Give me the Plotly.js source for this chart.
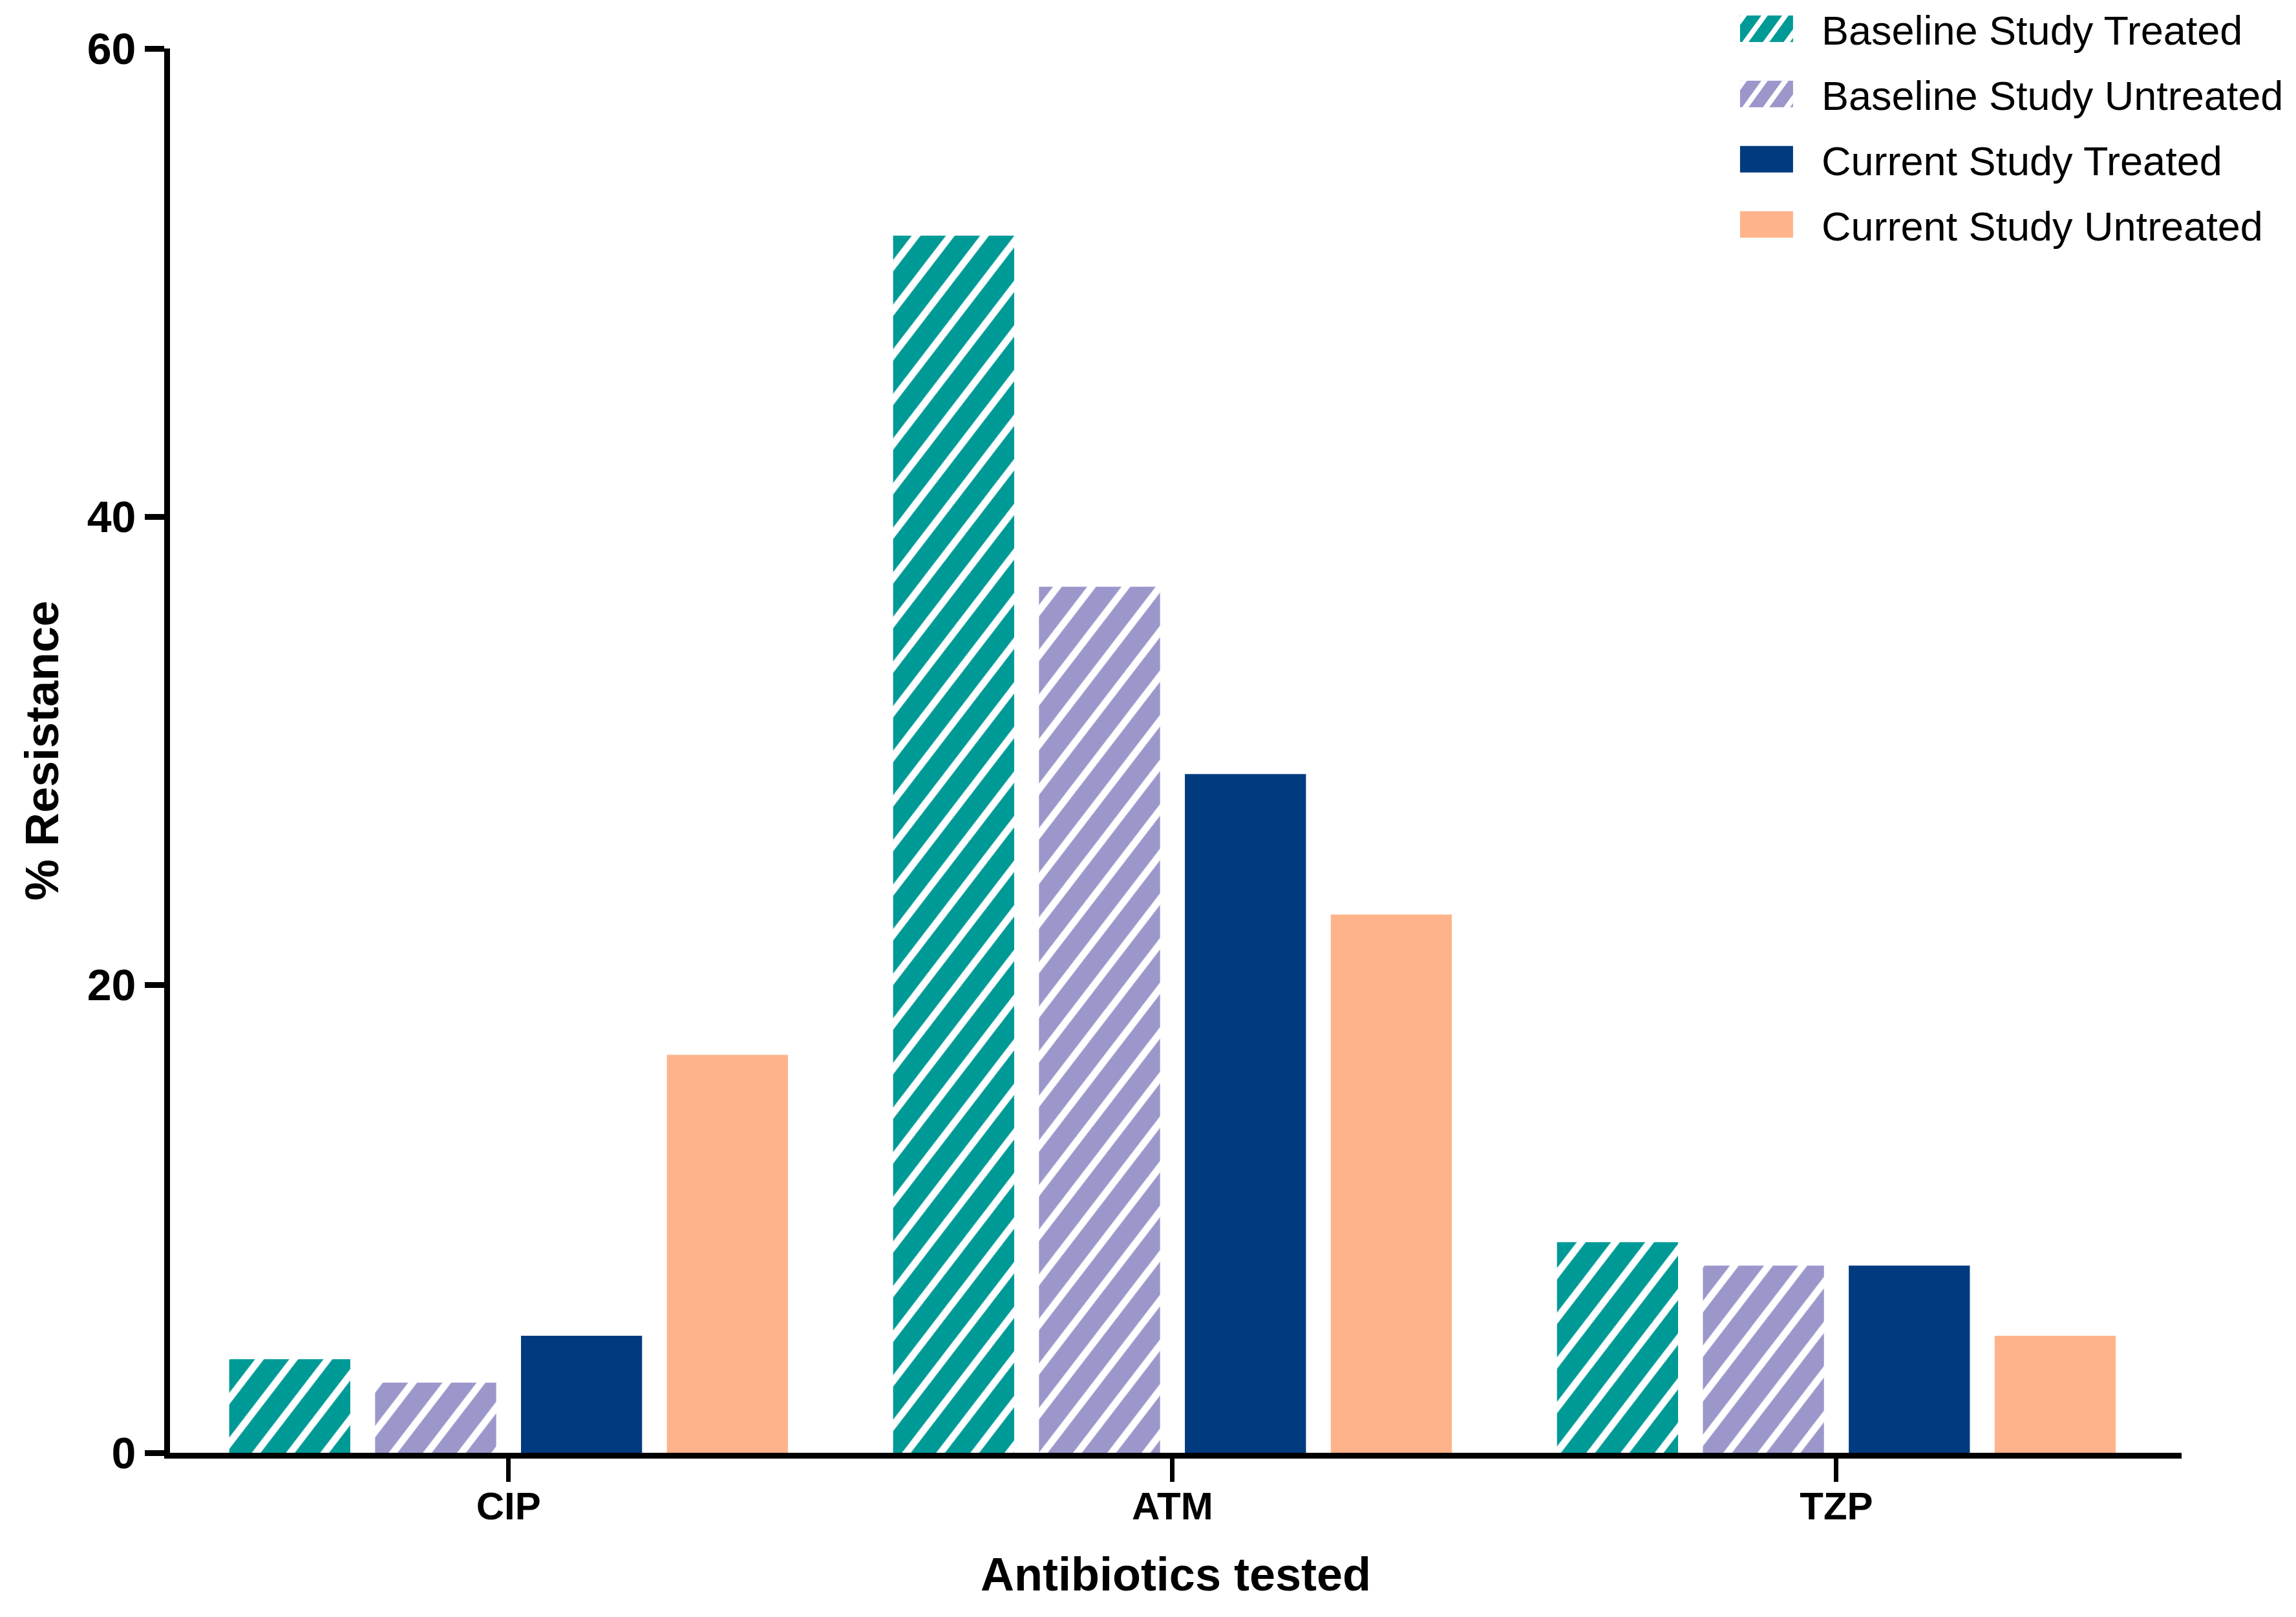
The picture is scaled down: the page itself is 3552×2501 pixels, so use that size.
<!DOCTYPE html>
<html>
<head>
<meta charset="utf-8">
<script src="https://cdn.plot.ly/plotly-3.0.1.min.js"></script>
<style>
  html, body { margin: 0; padding: 0; background: #ffffff; }
  #chart { width: 3552px; height: 2501px; }
</style>
</head>
<body>
<div id="chart"></div>
<script>
// ---- data ----
const categories = ["CIP", "ATM", "TZP"];
const seriesNames = [
  "Baseline Study Treated",
  "Baseline Study Untreated",
  "Current Study Treated",
  "Current Study Untreated"
];
const baselineTreated   = [4, 52, 9];
const baselineUntreated = [3, 37, 8];
const currentTreated    = [5, 29, 8];
const currentUntreated  = [17, 23, 5];
const yTickValues = [0, 20, 40, 60];
const yTickLabels = ["0", "20", "40", "60"];

// ---- styles ----
const seriesValues = [baselineTreated, baselineUntreated, currentTreated, currentUntreated];
const seriesColors = ["#009a96", "#9b97cb", "#003b80", "#ffb38b"];
const seriesHatched = [true, true, false, false];

const traces = seriesValues.map((vals, i) => {
  const marker = { color: seriesColors[i], line: { width: 0 } };
  if (seriesHatched[i]) {
    marker.pattern = {
      shape: "/",
      fillmode: "overlay",
      fgcolor: "#ffffff",
      fgopacity: 1,
      size: 42,
      solidity: 0.26
    };
  }
  return {
    type: "bar",
    name: seriesNames[i],
    x: categories,
    y: vals,
    marker: marker,
    legendgroup: "g" + i,
    hoverinfo: "skip"
  };
});

const tickFont = { family: "Liberation Sans, Arial, sans-serif", size: 60, color: "#000000", weight: "bold" };
const yTickFont = { family: "Liberation Sans, Arial, sans-serif", size: 68, color: "#000000", weight: "bold" };
const titleFont = { family: "Liberation Sans, Arial, sans-serif", size: 72, color: "#000000", weight: "bold" };

const layout = {
  width: 3552,
  height: 2501,
  paper_bgcolor: "#ffffff",
  plot_bgcolor: "#ffffff",
  margin: { l: 263, r: 177, t: 75, b: 254, pad: 0, autoexpand: false },
  barmode: "group",
  bargap: 0.121,
  bargroupgap: 0.17,
  showlegend: true,
  legend: {
    x: 0.776,
    xanchor: "left",
    y: 1.0359,
    yanchor: "top",
    traceorder: "grouped",
    tracegroupgap: 16,
    itemwidth: 130,
    font: { family: "Liberation Sans, Arial, sans-serif", size: 63, color: "#000000" },
    bgcolor: "rgba(0,0,0,0)"
  },
  xaxis: {
    type: "category",
    range: [-0.51, 2.52],
    showgrid: false,
    zeroline: false,
    showline: true,
    linecolor: "#000000",
    linewidth: 9,
    ticks: "outside",
    ticklen: 36,
    tickwidth: 7,
    tickcolor: "#000000",
    tickfont: tickFont,
    ticklabelstandoff: -14,
    title: { text: "Antibiotics tested", font: titleFont, standoff: 51 },
    fixedrange: true
  },
  yaxis: {
    range: [0, 60],
    tickvals: yTickValues,
    ticktext: yTickLabels,
    showgrid: false,
    zeroline: false,
    showline: true,
    linecolor: "#000000",
    linewidth: 9,
    ticks: "outside",
    ticklen: 30,
    tickwidth: 9,
    tickcolor: "#000000",
    tickfont: yTickFont,
    title: { text: "% Resistance", font: titleFont, standoff: 24 },
    fixedrange: true
  }
};

const SVGNS = "http://www.w3.org/2000/svg";

// Steepen the library's hatch a little (reference stripes run at ~53 degrees)
function tiltBarHatch(gd) {
  gd.querySelectorAll("pattern").forEach(p => {
    if (p.id === "legend-hatch") return;
    p.setAttribute("patternTransform", "rotate(-7.5)");
  });
}

// Legend keys drawn as wide rectangles (the reference uses large swatches)
function drawLegendKeys(gd) {
  const items = gd.querySelectorAll(".legend .traces");
  items.forEach(item => {
    if (item.querySelector(".custom-key")) return;
    const text = item.querySelector("text.legendtext");
    if (!text) return;
    const i = seriesNames.indexOf(text.textContent);
    if (i < 0) return;
    const svg = item.ownerSVGElement;
    let defs = svg.querySelector("defs.custom-defs");
    if (!defs) {
      defs = document.createElementNS(SVGNS, "defs");
      defs.setAttribute("class", "custom-defs");
      svg.insertBefore(defs, svg.firstChild);
      const pat = document.createElementNS(SVGNS, "pattern");
      pat.setAttribute("id", "legend-hatch");
      pat.setAttribute("patternUnits", "userSpaceOnUse");
      pat.setAttribute("width", "26");
      pat.setAttribute("height", "26");
      pat.setAttribute("patternTransform", "rotate(36)");
      const stripe = document.createElementNS(SVGNS, "rect");
      stripe.setAttribute("x", "0");
      stripe.setAttribute("y", "0");
      stripe.setAttribute("width", "8");
      stripe.setAttribute("height", "26");
      stripe.setAttribute("fill", "#ffffff");
      pat.appendChild(stripe);
      defs.appendChild(pat);
    }
    const pts = item.querySelector(".legendpoints");
    if (pts) pts.style.display = "none";
    const bb = text.getBBox();
    const keyW = 82, keyH = 41;
    const kx = bb.x - 44 - keyW;
    const g = document.createElementNS(SVGNS, "g");
    g.setAttribute("class", "custom-key");
    const base = document.createElementNS(SVGNS, "rect");
    base.setAttribute("x", kx);
    base.setAttribute("y", -keyH / 2);
    base.setAttribute("width", keyW);
    base.setAttribute("height", keyH);
    base.setAttribute("fill", seriesColors[i]);
    g.appendChild(base);
    if (seriesHatched[i]) {
      const over = base.cloneNode();
      over.setAttribute("fill", "url(#legend-hatch)");
      g.appendChild(over);
    }
    item.appendChild(g);
  });
}

function finish(gd) {
  tiltBarHatch(gd);
  drawLegendKeys(gd);
}

const gd = document.getElementById("chart");
Plotly.newPlot(gd, traces, layout, { displayModeBar: false, staticPlot: true }).then(() => {
  finish(gd);
  gd.on("plotly_afterplot", () => finish(gd));
  setTimeout(() => finish(gd), 300);
});
</script>
</body>
</html>
